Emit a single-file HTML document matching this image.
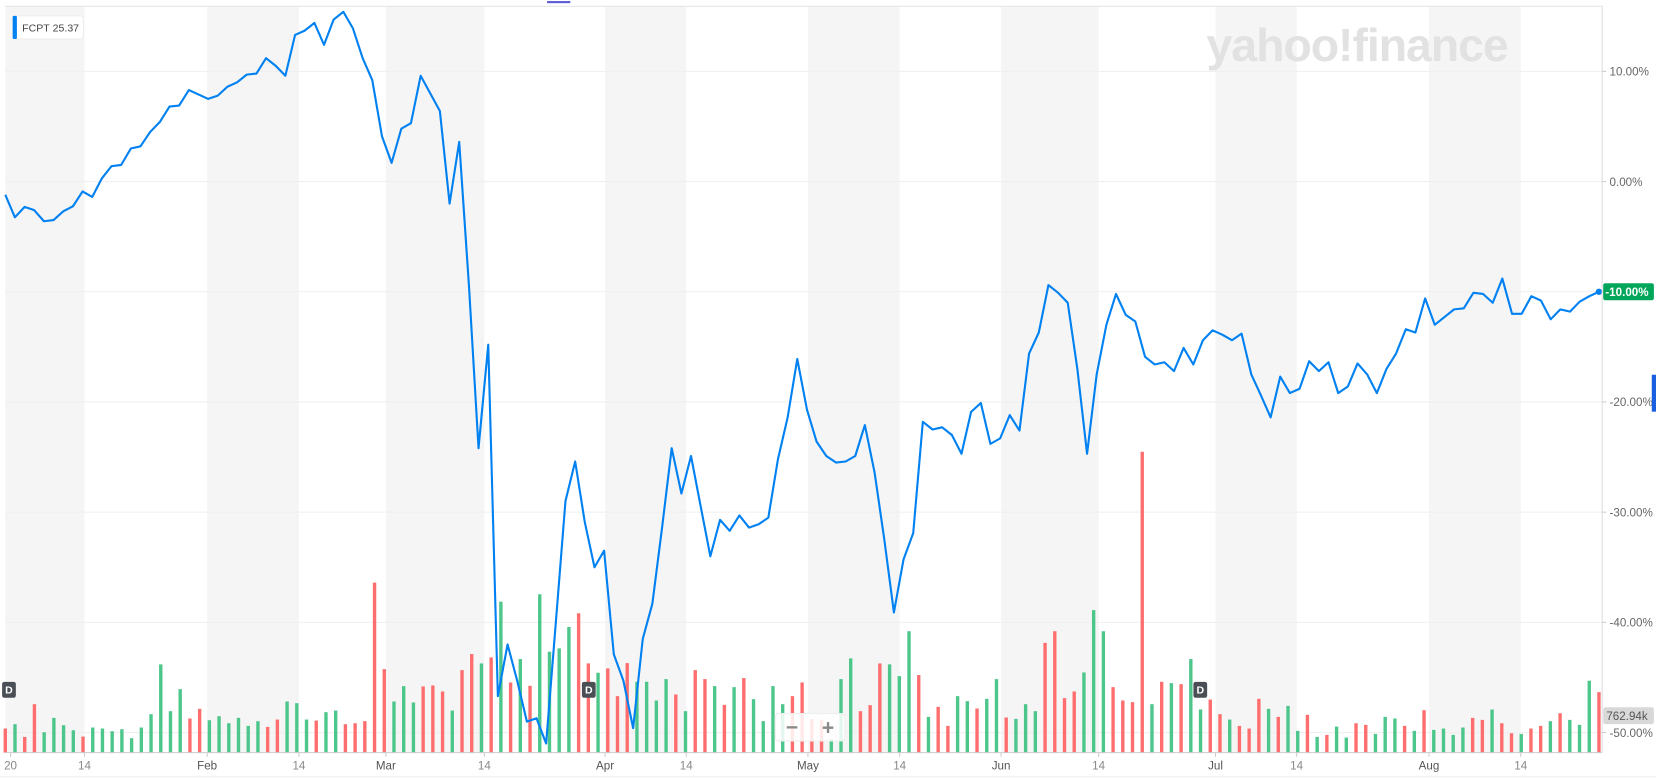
<!DOCTYPE html>
<html><head><meta charset="utf-8"><style>
html,body{margin:0;padding:0;background:#fff;overflow:hidden}
svg{display:block}
text{font-family:"Liberation Sans",sans-serif}
</style></head><body>
<svg id="chart" width="1656" height="779" viewBox="0 0 1568 738" preserveAspectRatio="none" xmlns="http://www.w3.org/2000/svg">
<g id="bands"></g>
<g id="grid"></g>
<text x="1285" y="58" font-size="44" font-weight="bold" fill="#e2e2e2" text-anchor="middle" style="letter-spacing:-1px">yahoo!finance</text>
<g id="vol"></g>
<g id="line"></g>
<g id="xaxis"></g>
<g id="yaxis"></g>
<line x1="5" y1="6" x2="1517" y2="6" stroke="#e6e6e6"/>
<rect x="518" y="1" width="22" height="2" fill="#5b5bd6"/>
<g>
<rect x="12" y="15" width="67" height="22" rx="3" fill="#fff" stroke="#eee"/>
<rect x="12" y="15" width="4" height="22" rx="1" fill="#0081f2"/>
<text x="21" y="30" font-size="10" fill="#444">FCPT&#160;25.37</text>
</g>
<g><rect x="2" y="646" width="13" height="15" rx="2" fill="#4a4f55"/><text x="8.5" y="657" font-size="10" font-weight="bold" fill="#fff" text-anchor="middle">D</text></g>
<g><rect x="551" y="646" width="13" height="15" rx="2" fill="#4a4f55"/><text x="557.5" y="657" font-size="10" font-weight="bold" fill="#fff" text-anchor="middle">D</text></g>
<g><rect x="1130" y="646" width="13" height="15" rx="2" fill="#4a4f55"/><text x="1136.5" y="657" font-size="10" font-weight="bold" fill="#fff" text-anchor="middle">D</text></g>
<g>
<rect x="734" y="676" width="66" height="26" rx="3" fill="#fff" fill-opacity="0.85" stroke="#eee"/>
<text x="750" y="696" font-size="20" font-weight="bold" fill="#888" text-anchor="middle">−</text>
<text x="784" y="696" font-size="20" font-weight="bold" fill="#888" text-anchor="middle">+</text>
</g>
<rect x="1564" y="355" width="4" height="35" fill="#1a5fe0"/>
</svg>
<script>
const prices=[-1.2,-3.25,-2.3,-2.6,-3.6,-3.5,-2.7,-2.25,-0.9,-1.4,0.3,1.4,1.5,3.0,3.2,4.5,5.4,6.8,6.9,8.3,7.9,7.5,7.8,8.6,9.0,9.7,9.8,11.2,10.5,9.6,13.3,13.7,14.4,12.4,14.7,15.4,13.9,11.2,9.2,4.1,1.7,4.8,5.3,9.6,8.0,6.4,-2.0,3.6,-9.4,-24.2,-14.8,-46.7,-42,-45.3,-49,-48.7,-51,-40,-29,-25.4,-30.9,-35,-33.5,-42.9,-45.3,-49.6,-41.5,-38.3,-31.4,-24.2,-28.3,-24.9,-29.5,-34,-30.7,-31.7,-30.3,-31.4,-31.1,-30.5,-25.2,-21.4,-16.1,-20.7,-23.6,-24.9,-25.5,-25.4,-24.9,-22.1,-26.4,-32.4,-39.1,-34.3,-31.9,-21.8,-22.5,-22.3,-23,-24.7,-20.9,-20.1,-23.8,-23.3,-21.2,-22.6,-15.6,-13.7,-9.4,-10.1,-11,-17,-24.7,-17.5,-13,-10.2,-12.1,-12.7,-15.9,-16.6,-16.4,-17.2,-15.1,-16.6,-14.4,-13.5,-13.9,-14.4,-13.8,-17.5,-19.4,-21.4,-17.7,-19.2,-18.8,-16.3,-17.2,-16.4,-19.2,-18.6,-16.5,-17.5,-19.2,-17,-15.6,-13.4,-13.7,-10.6,-13,-12.3,-11.6,-11.5,-10.1,-10.2,-11,-8.8,-12,-12,-10.4,-10.8,-12.5,-11.6,-11.8,-10.9,-10.4,-10.0];
const volumes=[497,587,324,1000,421,718,566,462,331,518,497,442,483,297,518,794,1822,856,1311,704,904,669,752,607,718,552,649,531,683,1056,1021,683,662,835,869,587,607,649,
3510,1725,1056,1373,1035,1366,1387,1263,869,1704,2036,1842,1966,3117,1449,1932,1380,3270,2084,2153,2594,2878,1842,1649,1739,1166,1849,1463,1463,1076,1518,1201,856,1704,1518,1373,987,1352,1539,1104,649,1373,1000,1166,1449,690,683,
276,1518,1946,856,980,1842,1822,1580,2507,1601,738,945,552,1166,1063,911,1111,1518,725,697,1000,856,2267,2507,1125,1263,1656,2943,2507,1352,1076,1042,6213,1000,1463,1435,1414,1932,890,1097,794,683,552,497,1111,904,738,966,449,780,324,366,538,311,607,573,386,738,704,552,449,876,469,497,366,518,718,676,890,607,400,386,497,552,649,814,676,573,1484,1249];
const upStr="rgrrggggrggggggggggrrggggggrrgggrggrrr"+"rrgggrrrgrrgrgrgrggggrrgrrrggggrgrrgrgrggggrrr"+"rgggrrrgggrgrrggrggrgggrrrrgggrrrrgrgrggrrgrrrgrggrgrggrrgggrgrggggrrgrrgrrgrggg";
const tickLabels=["20","14","Feb","14","Mar","14","Apr","14","May","14","Jun","14","Jul","14","Aug","14"];
const tickIdx=[0.5,8.2,20.9,30.4,39.4,49.6,62.1,70.5,83.1,92.6,103.1,113.2,125.3,133.7,147.4,156.9];
const yTicks=[10,0,-10,-20,-30,-40,-50];
const lastLabel="-10.00%";
const volLabel="762.94k";

const NS="http://www.w3.org/2000/svg";
const X0=5,X1=1514,XR=1517;
const NREF=prices.length;
const xPos=t=>X0+t*(X1-X0)/(NREF-1);
const xIdx=(i,n)=>X0+i*(X1-X0)/(n-1);
const yP=p=>172-p*10.44;
const BASE=713;
const yV=v=>BASE-v/21.8;
function mk(tag,attrs,parent){const e=document.createElementNS(NS,tag);for(const k in attrs)e.setAttribute(k,attrs[k]);parent.appendChild(e);return e;}

const bands=document.getElementById('bands');
for(let i=0;i<tickIdx.length;i+=2){
  const x1=i===0?X0:xPos(tickIdx[i]);
  const x2=Math.min(XR,xPos(tickIdx[i+1]));
  const r=mk('rect',{x:x1,y:6,width:x2-x1,height:BASE-6,fill:'#f5f5f5'},bands);
  
  
}
const grid=document.getElementById('grid');
yTicks.forEach(t=>{
  const l=mk('line',{x1:X0,x2:XR,y1:yP(t),y2:yP(t),stroke:'#efefef','stroke-width':1},grid);
  
  
});
const vol=document.getElementById('vol');
const nv=volumes.length;
volumes.forEach((v,i)=>{
  const x=xIdx(i,nv);
  const r=mk('rect',{x:x-1.6,y:yV(v),width:3.2,height:BASE-yV(v),fill:upStr[i]==='g'?'#4cc68a':'#ff6e6e'},vol);
  
  
});
const lg=document.getElementById('line');
const np=prices.length;
const pts=prices.map((p,i)=>xIdx(i,np).toFixed(1)+','+yP(p).toFixed(1)).join(' ');
const pl=mk('polyline',{points:pts,fill:'none',stroke:'#0081f2','stroke-width':2,'stroke-linejoin':'round'},lg);


const dot=mk('circle',{cx:xIdx(np-1,np),cy:yP(prices[np-1]),r:3,fill:'#0081f2'},lg);



const xa=document.getElementById('xaxis');
const al=mk('line',{x1:X0,x2:XR,y1:BASE,y2:BASE,stroke:'#ccc'},xa);


const bl=mk('line',{x1:0,x2:1568,y1:736,y2:736,stroke:'#eee'},xa);


tickLabels.forEach((t,i)=>{
  const x=Math.max(10,xPos(tickIdx[i]));
  const tk=mk('line',{x1:x,x2:x,y1:BASE,y2:BASE+4,stroke:'#ccc'},xa);
  
  
  const tx=mk('text',{x:x,y:729,'font-size':11,fill:t.length>2?'#555':'#888','text-anchor':'middle'},xa);
  tx.textContent=t;
  
  
});
const ya=document.getElementById('yaxis');
const vl=mk('line',{x1:XR,x2:XR,y1:6,y2:BASE,stroke:'#ddd'},ya);


yTicks.forEach(t=>{
  const tk=mk('line',{x1:XR,x2:XR+4,y1:yP(t),y2:yP(t),stroke:'#ccc'},ya);
  
  
  if(t===-10)return;
  const tx=mk('text',{x:1524,y:yP(t)+4,'font-size':11,fill:'#666'},ya);
  tx.textContent=t.toFixed(2)+'%';
  
  
});
const ly=yP(prices[np-1]);
const lb=mk('rect',{x:1518,y:ly-8,width:48,height:16,rx:2,fill:'#00a65a'},ya);


const lt=mk('text',{x:1520,y:ly+4,'font-size':11,'font-weight':'bold',fill:'#fff'},ya);
lt.textContent=lastLabel;


const vb=mk('rect',{x:1518,y:670,width:48,height:16,rx:2,fill:'#d8d8d8'},ya);


const vt=mk('text',{x:1521,y:682,'font-size':11,fill:'#555'},ya);
vt.textContent=volLabel;


</script>
</body></html>
